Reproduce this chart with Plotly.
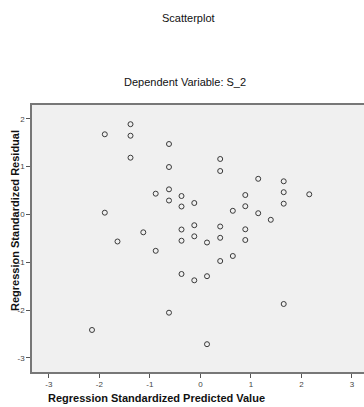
import plotly.graph_objects as go

# Regression Standardized Predicted Value
pred = [-1.893, -1.384, -1.384, -1.384, -1.893, -1.642, -2.147, -1.131, -0.885, -0.885,
        -0.622, -0.622, -0.622, -0.622, -0.622, -0.374, -0.374, -0.374, -0.374, -0.374,
        -0.121, -0.121, -0.121, -0.121, 0.131, 0.131, 0.131, 0.392, 0.392, 0.392,
        0.392, 0.392, 0.642, 0.642, 0.889, 0.889, 0.889, 0.889, 1.145, 1.145,
        1.394, 1.650, 1.650, 1.650, 1.650, 2.156]
# Regression Standardized Residual
resid = [1.674, 1.885, 1.644, 1.185, 0.036, -0.566, -2.415, -0.374, 0.433, -0.761,
         1.471, 0.990, 0.524, 0.290, -2.054, 0.384, 0.165, -0.316, -0.550, -1.245,
         0.238, -0.226, -0.458, -1.377, -0.587, -1.291, -2.712, 1.158, 0.907, -0.253,
         -0.489, -0.974, 0.075, -0.869, 0.405, 0.171, -0.311, -0.535, 0.744, 0.025,
         -0.113, 0.692, 0.464, 0.224, -1.872, 0.420]

ticks = [-3, -2, -1, 0, 1, 2, 3]
tick_labels = ["-3", "-2", "-1", "0", "1", "2", "3"]

fig = go.Figure()
fig.add_trace(go.Scatter(
    x=pred, y=resid, mode="markers",
    marker=dict(symbol="circle-open", size=5, color="#3a3a3a", line=dict(width=1)),
    hoverinfo="skip", showlegend=False))

font = "Liberation Sans, Arial, sans-serif"
fig.update_layout(
    width=364, height=407,
    margin=dict(l=32, r=0, t=105, b=35),
    paper_bgcolor="white", plot_bgcolor="#f0f0f0",
    font=dict(family=font, size=9, color="#333"),
    xaxis=dict(range=[-3.335, 3.24], tickvals=ticks, ticktext=tick_labels,
               ticks="outside", ticklen=4,
               tickcolor="#555", showgrid=False, zeroline=False, showline=True,
               linecolor="#777", linewidth=1.5, mirror=True,
               tickfont=dict(size=8, color="#444")),
    yaxis=dict(range=[-3.293, 2.286], tickvals=ticks, ticktext=tick_labels,
               ticks="outside", ticklen=4,
               tickcolor="#555", showgrid=False, zeroline=False, showline=True,
               linecolor="#777", linewidth=1.5, mirror=False,
               tickfont=dict(size=8, color="#444")),
    annotations=[
        dict(text="Scatterplot", x=0.47, y=1.326, xref="paper", yref="paper",
             xanchor="center", yanchor="middle",
             showarrow=False, font=dict(size=11, color="#111", family=font)),
        dict(text="Dependent Variable: S_2", x=0.461, y=1.086, xref="paper", yref="paper",
             xanchor="center", yanchor="middle",
             showarrow=False, font=dict(size=11, color="#111", family=font)),
        dict(text="<b>Regression Standardized Predicted Value</b>", x=0.3765, y=-0.097,
             xref="paper", yref="paper", showarrow=False,
             xanchor="center", yanchor="middle",
             font=dict(size=11, color="#111", family=font)),
        dict(text="<b>Regression Standardized Residual</b>", x=-0.051, y=0.566,
             xref="paper", yref="paper", showarrow=False, textangle=-90,
             xanchor="center", yanchor="middle",
             font=dict(size=11, color="#111", family=font)),
    ],
)
fig.write_html("out.html")
